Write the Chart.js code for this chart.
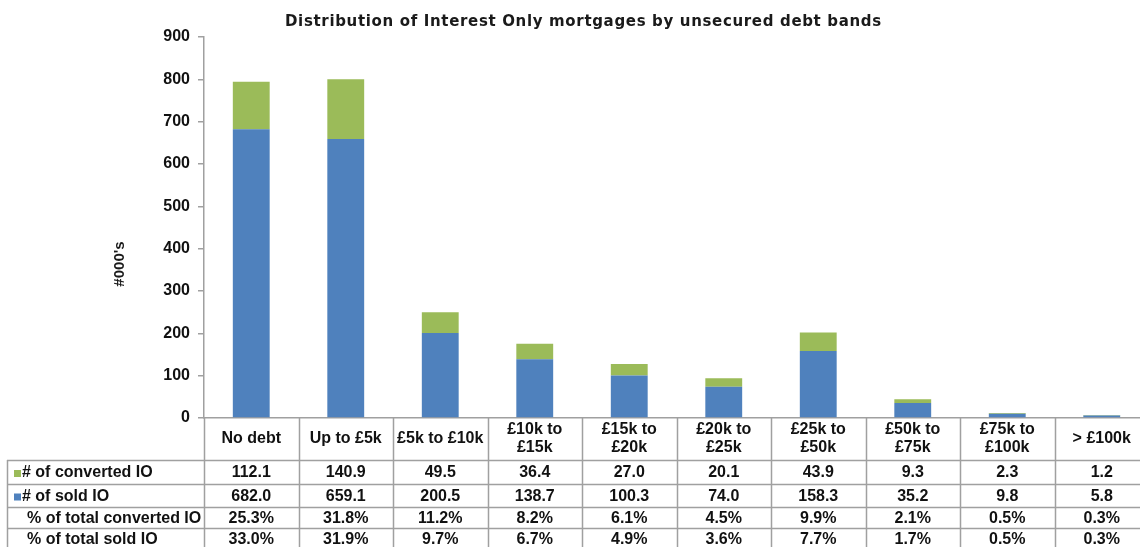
<!DOCTYPE html>
<html>
<head>
<meta charset="utf-8">
<script src="https://cdn.jsdelivr.net/npm/chart.js@4/dist/chart.umd.min.js"></script>
<style>
  html, body { margin: 0; padding: 0; background: #fff; overflow: hidden; }
  #wrap { width: 1152px; height: 547px; position: relative; }
</style>
</head>
<body>
<div id="wrap"><canvas id="grafico"></canvas></div>
<script>
// Dados do gráfico
const faixas = [["No debt"], ["Up to £5k"], ["£5k to £10k"], ["£10k to", "£15k"], ["£15k to", "£20k"],
  ["£20k to", "£25k"], ["£25k to", "£50k"], ["£50k to", "£75k"], ["£75k to", "£100k"], ["> £100k"]];
const convertidos = [112.1, 140.9, 49.5, 36.4, 27.0, 20.1, 43.9, 9.3, 2.3, 1.2];
const vendidos = [682.0, 659.1, 200.5, 138.7, 100.3, 74.0, 158.3, 35.2, 9.8, 5.8];
const pctConvertidos = ["25.3%", "31.8%", "11.2%", "8.2%", "6.1%", "4.5%", "9.9%", "2.1%", "0.5%", "0.3%"];
const pctVendidos = ["33.0%", "31.9%", "9.7%", "6.7%", "4.9%", "3.6%", "7.7%", "1.7%", "0.5%", "0.3%"];
const ticksY = [0, 100, 200, 300, 400, 500, 600, 700, 800, 900];

const AZUL = "#4F81BD";
const VERDE = "#9BBB59";
const LINHA = "#a0a0a0";
const FONTE = "'Liberation Sans', Arial, sans-serif";

// Tabela de dados e títulos desenhados abaixo do eixo
const tabelaPlugin = {
  id: "tabela",
  afterDraw(chart) {
    const ctx = chart.ctx;
    const x = chart.scales.x;
    const area = chart.chartArea;
    const base = area.bottom;
    const cab = base + 42;
    const linhas = [cab, cab + 24, cab + 47, cab + 68, cab + 90];
    const esq = 7;
    const larg = (x.getPixelForValue(1) - x.getPixelForValue(0));

    ctx.save();
    // Título (espaçado para ocupar a mesma largura do original)
    const titulo = "Distribution of Interest Only mortgages by unsecured debt bands";
    ctx.fillStyle = "#1a1a1a";
    ctx.font = "bold 15px 'DejaVu Sans', Verdana, sans-serif";
    ctx.textAlign = "left";
    ctx.textBaseline = "middle";
    const w = ctx.measureText(titulo).width;
    ctx.letterSpacing = ((597 - w) / titulo.length).toFixed(2) + "px";
    ctx.fillText(titulo, 285, 22);
    ctx.letterSpacing = "0px";

    // Título do eixo y
    ctx.textAlign = "center";
    ctx.save();
    ctx.translate(120, 264);
    ctx.rotate(-Math.PI / 2);
    ctx.font = "bold 15px " + FONTE;
    ctx.fillText("#000's", 0, 0);
    ctx.restore();

    // Linhas da tabela
    ctx.strokeStyle = LINHA;
    ctx.lineWidth = 1.5;
    ctx.beginPath();
    for (let i = 0; i <= faixas.length; i++) {
      const px = Math.round(x.getPixelForValue(i) - larg / 2) + 0.5;
      ctx.moveTo(px, base);
      ctx.lineTo(px, 547);
    }
    linhas.forEach(y => {
      ctx.moveTo(esq, y + 0.5);
      ctx.lineTo(chart.width, y + 0.5);
    });
    ctx.moveTo(esq + 0.5, cab);
    ctx.lineTo(esq + 0.5, 547);
    ctx.stroke();

    // Cabeçalho das categorias
    ctx.fillStyle = "#111";
    ctx.font = "bold 16px " + FONTE;
    faixas.forEach((f, i) => {
      const cx = x.getPixelForValue(i);
      if (f.length === 1) {
        ctx.fillText(f[0], cx, base + 21);
      } else {
        ctx.fillText(f[0], cx, base + 12);
        ctx.fillText(f[1], cx, base + 30);
      }
    });

    // Valores
    const dados = [convertidos.map(v => v.toFixed(1)), vendidos.map(v => v.toFixed(1)), pctConvertidos, pctVendidos];
    dados.forEach((linha, r) => {
      const cy = (linhas[r] + linhas[r + 1]) / 2 + 1;
      linha.forEach((t, i) => ctx.fillText(t, x.getPixelForValue(i), cy));
    });

    // Rótulos das linhas
    ctx.textAlign = "left";
    const rotulos = ["# of converted IO", "# of sold IO", "% of total converted IO", "% of total sold IO"];
    rotulos.forEach((t, r) => {
      const cy = (linhas[r] + linhas[r + 1]) / 2 + 1;
      if (r === 0 || r === 1) {
        ctx.fillStyle = r === 0 ? VERDE : AZUL;
        ctx.fillRect(14, cy - 3, 7, 7);
        ctx.fillStyle = "#111";
        ctx.fillText(t, 22, cy);
      } else {
        ctx.fillText(t, 27, cy);
      }
    });
    ctx.restore();
  }
};

const ctx = document.getElementById("grafico").getContext("2d");
new Chart(ctx, {
  type: "bar",
  data: {
    labels: faixas.map(f => f.join(" ")),
    datasets: [
      { label: "# of sold IO", data: vendidos, backgroundColor: AZUL, stack: "s" },
      { label: "# of converted IO", data: convertidos, backgroundColor: VERDE, stack: "s" }
    ]
  },
  options: {
    responsive: true,
    maintainAspectRatio: false,
    animation: false,
    layout: { padding: { top: 37, bottom: 129, left: 0, right: 3 } },
    datasets: { bar: { categoryPercentage: 1, barPercentage: 0.39 } },
    plugins: { legend: { display: false }, tooltip: { enabled: false }, title: { display: false } },
    scales: {
      x: {
        stacked: true,
        ticks: { display: false },
        grid: { display: false, drawTicks: false },
        border: { display: true, color: LINHA, width: 1.5 }
      },
      y: {
        stacked: true,
        min: 0,
        max: 900,
        afterFit: s => { s.width = 204; },
        afterBuildTicks: s => { s.ticks = ticksY.map(v => ({ value: v })); },
        ticks: { color: "#111", padding: 8, font: { family: FONTE, size: 16, weight: "bold" } },
        grid: { drawOnChartArea: false, drawTicks: true, tickLength: 6, color: LINHA, lineWidth: 1.5 },
        border: { display: true, color: LINHA, width: 1.5 }
      }
    }
  },
  plugins: [tabelaPlugin]
});
</script>
</body>
</html>
